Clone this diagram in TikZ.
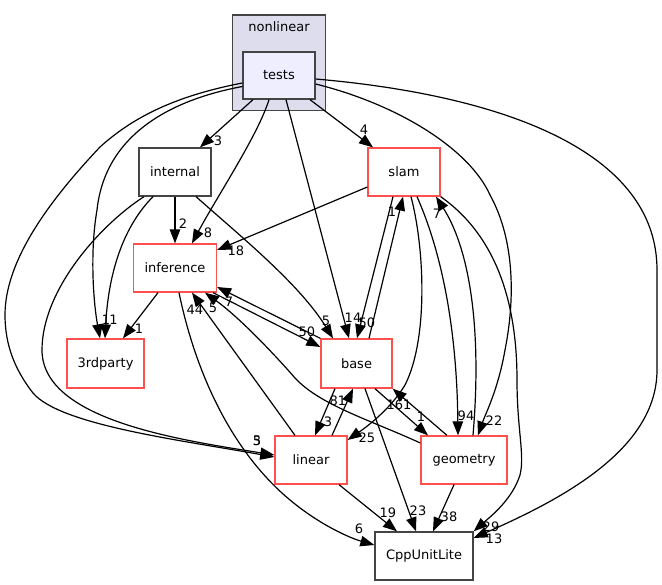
\documentclass[tikz,border=0pt]{standalone}
\usepackage{fontspec}
\setmainfont{DejaVu Sans}
\usetikzlibrary{arrows.meta}
\definecolor{nred}{RGB}{255,80,80}
\definecolor{ngray}{RGB}{68,68,68}
\definecolor{clfill}{RGB}{221,221,238}
\definecolor{tfill}{RGB}{238,238,255}
\begin{document}
\begin{tikzpicture}[x=1pt,y=-1pt,font=\fontsize{13}{15}\selectfont,
  box/.style={draw=nred,line width=1.3pt,fill=white,inner sep=0,minimum height=48pt,minimum width=#1},
  gbox/.style={draw=ngray,line width=1.3pt,fill=white,inner sep=0,minimum height=48pt,minimum width=#1},
  dep/.style={line width=1.2pt,-{Triangle[length=14pt,width=10.5pt]}},
  lbl/.style={inner sep=0}]
\useasboundingbox (0,0) rectangle (662,585);
% cluster
\node[draw=ngray,fill=clfill,line width=1.3pt,inner sep=0,minimum width=93pt,minimum height=95.5pt] (cluster) at (279,62.75) {};
\node[lbl] (cltitle) at (279,27) {nonlinear};
% nodes
\node[gbox=72pt,fill=tfill,minimum height=47pt] (tests) at (279,75.5) {tests};
\node[gbox=72pt] (internal) at (175,172) {internal};
\node[box=72pt] (slam) at (404,172) {slam};
\node[box=83pt] (inference) at (175,268) {inference};
\node[box=77pt,minimum height=49pt] (3rdparty) at (105.5,363.5) {3rdparty};
\node[box=71pt,minimum height=49pt] (base) at (356.5,363.5) {base};
\node[box=72pt] (linear) at (311,460) {linear};
\node[box=86pt] (geometry) at (464,460) {geometry};
\node[gbox=98pt] (CppUnitLite) at (424,556) {CppUnitLite};
% edges from tests
\draw[dep] ([xshift=-26pt]tests.south) -- ([xshift=25pt]internal.north);
\draw[dep] ([xshift=31pt]tests.south) -- ([xshift=-31pt]slam.north);
\draw[dep] ([xshift=-10pt]tests.south) .. controls (258,135) and (218,195) .. ([xshift=17pt]inference.north);
\draw[dep] ([xshift=7pt]tests.south) -- ([xshift=-7.5pt]base.north);
\draw[dep] ([yshift=-11pt]tests.west) .. controls (170,100) and (105,135) .. (97,210) .. controls (90,250) and (93,300) .. ([xshift=-5.5pt]3rdparty.north);
\draw[dep] ([yshift=-7.5pt]tests.west) .. controls (170,97) and (130,120) .. (100,147) .. controls (50,200) and (5,260) .. (5,315) .. controls (5,345) and (15,370) .. (33,393) .. controls (60,425) and (180,440) .. ([yshift=3pt]linear.west);
\draw[dep] ([yshift=-8.5pt]tests.east) .. controls (400,105) and (470,150) .. (490,195) .. controls (515,240) and (515,300) .. (505,350) .. controls (498,390) and (485,415) .. ([xshift=14pt]geometry.north);
\draw[dep] ([yshift=-3.5pt]tests.east) .. controls (500,95) and (657,150) .. (657,270) -- (657,370) .. controls (657,450) and (560,500) .. ([yshift=18pt]CppUnitLite.east);
% edges from internal
\draw[dep] (internal.south) -- (inference.north);
\draw[dep] ([xshift=21pt]internal.south) .. controls (245,240) and (300,285) .. ([xshift=-23.5pt]base.north);
\draw[dep] ([xshift=-22pt]internal.south) .. controls (120,230) and (108,280) .. ([xshift=-0.5pt]3rdparty.north);
\draw[dep] ([xshift=-31pt]internal.south) .. controls (100,225) and (42,290) .. (42,350) .. controls (42,420) and (180,440) .. ([yshift=5pt]linear.west);
% edges from slam
\draw[dep] ([yshift=-15pt]slam.west) -- ([yshift=18pt]inference.east);
\draw[dep] ([xshift=-11pt]slam.south) -- ([xshift=0.5pt]base.north);
\draw[dep] ([xshift=7pt]slam.south) .. controls (425,250) and (428,340) .. (405,385) .. controls (390,410) and (365,428) .. ([yshift=20pt]linear.east);
\draw[dep] ([xshift=13pt]slam.south) .. controls (445,260) and (457,340) .. ([xshift=-6pt]geometry.north);
\draw[dep] (slam.south east) .. controls (495,235) and (517,300) .. (517,380) .. controls (517,430) and (525,455) .. (520,475) .. controls (512,500) and (490,517) .. (CppUnitLite.north east);
% edges from inference
\draw[dep] ([xshift=38pt]inference.south) -- ([yshift=16.5pt]base.west);
\draw[dep] ([xshift=-17pt]inference.south) -- ([xshift=17.5pt]3rdparty.north);
\draw[dep] ([xshift=4pt]inference.south) .. controls (195,370) and (230,450) .. (290,500) .. controls (320,525) and (350,538) .. ([yshift=11pt]CppUnitLite.west);
% edges from base
\draw[dep] ([xshift=12.5pt]base.north) -- ([xshift=-1pt]slam.south);
\draw[dep] (base.north west) -- ([yshift=-19pt]inference.east);
\draw[dep] ([xshift=-21.5pt]base.south) -- ([xshift=4pt]linear.north);
\draw[dep] ([xshift=18.5pt]base.south) -- ([xshift=-36pt]geometry.north);
\draw[dep] ([xshift=8.5pt]base.south) -- ([xshift=-8pt]CppUnitLite.north);
% edges from linear
\draw[dep] ([xshift=-16pt]linear.north) -- ([xshift=17pt]inference.south);
\draw[dep] ([xshift=21pt]linear.north) -- ([xshift=-3.5pt]base.south);
\draw[dep] ([xshift=28pt]linear.south) -- ([xshift=-27pt]CppUnitLite.north);
% edges from geometry
\draw[dep] ([xshift=9pt]geometry.north) .. controls (482,330) and (470,250) .. ([xshift=32pt]slam.south);
\draw[dep] ([yshift=17pt]geometry.west) .. controls (370,420) and (320,405) .. (295,378) .. controls (275,355) and (240,318) .. ([xshift=30pt]inference.south);
\draw[dep] ([xshift=-17pt]geometry.north) -- (base.south east);
\draw[dep] ([xshift=-10pt]geometry.south) -- ([xshift=9pt]CppUnitLite.north);
% labels
\node[lbl] (la1) at (218,141) {3};
\node[lbl] (la2) at (364,130) {4};
\node[lbl] (la3) at (208,233) {8};
\node[lbl] (la4) at (353,318) {14};
\node[lbl] (la5) at (106,320) {1};
\node[lbl] (la6) at (113.5,320) {1};
\node[lbl] (la7) at (257,441) {5};
\node[lbl] (la8) at (257,441) {3};
\node[lbl] (la9) at (183,224) {2};
\node[lbl] (la10) at (326,321) {5};
\node[lbl] (la11) at (236,251) {18};
\node[lbl] (la12) at (367,323) {50};
\node[lbl] (la13) at (392,212) {1};
\node[lbl] (la14) at (367,438) {25};
\node[lbl] (la15) at (466,416) {94};
\node[lbl] (la16) at (437,214) {7};
\node[lbl] (la17) at (491,527) {29};
\node[lbl] (la18) at (494,421) {22};
\node[lbl] (la19) at (494,539) {13};
\node[lbl] (la20) at (307,332) {50};
\node[lbl] (la21) at (229,302) {7};
\node[lbl] (la22) at (139,329) {1};
\node[lbl] (la23) at (195,310) {44};
\node[lbl] (la24) at (213,308) {5};
\node[lbl] (la25) at (359,529) {6};
\node[lbl] (la26) at (328,422) {3};
\node[lbl] (la27) at (338,401) {81};
\node[lbl] (la28) at (399,405) {161};
\node[lbl] (la29) at (421,417) {1};
\node[lbl] (la30) at (418,511) {23};
\node[lbl] (la31) at (388,513) {19};
\node[lbl] (la32) at (449,517) {38};
\end{tikzpicture}
\end{document}
